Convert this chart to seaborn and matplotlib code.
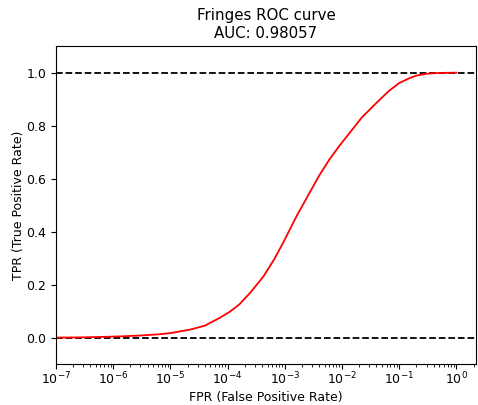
import matplotlib
matplotlib.use("Agg")
import matplotlib.pyplot as plt
import seaborn as sns
import pandas as pd
import numpy as np

# ROC curve points (FPR, TPR)
fpr = [1e-7, 3e-7, 7.6e-7, 1.5e-6, 3e-6, 6e-6, 1e-5, 2.2e-5, 4e-5, 7.2e-5,
       1.1e-4, 1.6e-4, 2.5e-4, 4.2e-4, 6.5e-4, 9.3e-4, 1.6e-3, 2.7e-3,
       4e-3, 6e-3, 9e-3, 1.35e-2, 2.2e-2, 4e-2, 6.5e-2, 0.1, 0.15, 0.2,
       0.3, 0.5, 1.0]
tpr = [0.0, 0.001, 0.003, 0.005, 0.008, 0.012, 0.017, 0.030, 0.045, 0.074,
       0.098, 0.125, 0.170, 0.230, 0.295, 0.357, 0.458, 0.546, 0.612,
       0.672, 0.724, 0.772, 0.830, 0.886, 0.930, 0.961, 0.979, 0.989,
       0.996, 0.999, 1.0]
ref_levels = [0.0, 1.0]
title = "Fringes ROC curve\nAUC: 0.98057"

df = pd.DataFrame({"FPR": fpr, "TPR": tpr})

plt.rcParams["font.size"] = 9

fig = plt.figure(figsize=(4.78, 4.05), dpi=100)
ax = fig.add_axes([0.117, 0.101, 0.879, 0.785])

for lvl in ref_levels:
    ax.axhline(lvl, color="black", linestyle="--", linewidth=1.3)

sns.lineplot(data=df, x="FPR", y="TPR", ax=ax, color="red", linewidth=1.3,
             estimator=None, sort=False)

ax.set_xscale("log")
ax.set_xlim(1e-7, 2.2)
ax.set_ylim(-0.1, 1.1)
ax.set_yticks([0.0, 0.2, 0.4, 0.6, 0.8, 1.0])
ax.set_xticks([1e-7, 1e-6, 1e-5, 1e-4, 1e-3, 1e-2, 1e-1, 1e0])
ax.xaxis.set_minor_locator(matplotlib.ticker.LogLocator(base=10, subs=np.arange(2, 10), numticks=20))
ax.tick_params(axis="x", which="major", pad=1.5)
ax.set_xlabel("FPR (False Positive Rate)", labelpad=2.5)
ax.set_ylabel("TPR (True Positive Rate)", labelpad=1)
ax.set_title(title)

fig.savefig("out.png", dpi=100)
